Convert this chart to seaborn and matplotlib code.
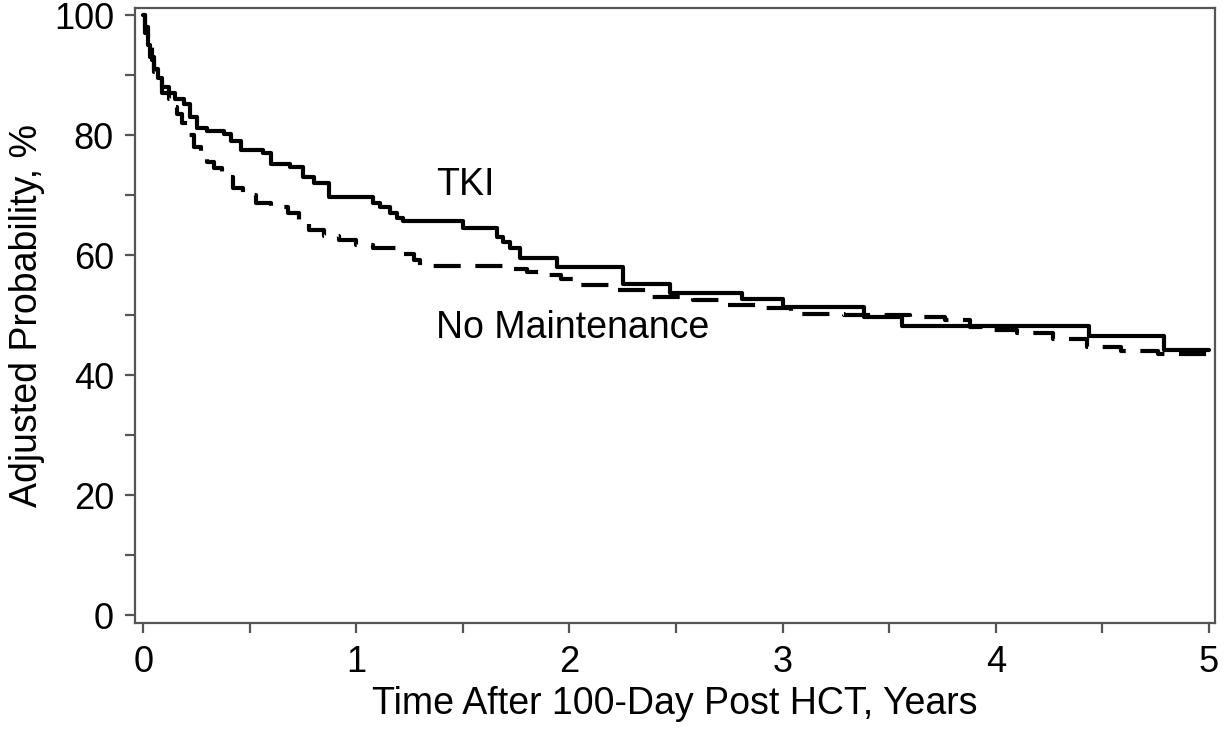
import numpy as np
import pandas as pd
import matplotlib
matplotlib.use("Agg")
import matplotlib.pyplot as plt
import seaborn as sns

# step points (time in years, adjusted probability %)
tki_x = [0, 0.01, 0.02, 0.03, 0.05, 0.07, 0.09, 0.12, 0.15, 0.19, 0.22, 0.25,
         0.30, 0.38, 0.41, 0.46, 0.56, 0.60, 0.69, 0.75, 0.80, 0.87, 1.08, 1.11,
         1.16, 1.19, 1.22, 1.50, 1.66, 1.69, 1.72, 1.77, 1.94, 2.25, 2.47, 2.81,
         3.00, 3.38, 3.56, 4.44, 4.79, 5.0]
tki_y = [100, 98, 95, 93, 91, 89.5, 88, 87, 86, 85.3, 83, 81.3,
         80.8, 80.3, 79, 77.5, 77, 75.3, 74.7, 73, 72, 69.7, 68.8, 68,
         67, 66.3, 65.8, 64.5, 63, 62.2, 61.3, 59.5, 58, 55.3, 53.8, 52.8,
         51.4, 49.7, 48.2, 46.5, 44.3, 44.3]

nomaint_x = [0, 0.01, 0.02, 0.04, 0.05, 0.07, 0.09, 0.12, 0.14, 0.16, 0.18, 0.21,
             0.24, 0.27, 0.30, 0.33, 0.37, 0.42, 0.47, 0.53, 0.60, 0.68, 0.73, 0.78,
             0.85, 0.92, 1.00, 1.08, 1.21, 1.27, 1.30, 1.72, 1.80, 1.88, 1.96, 2.04,
             2.22, 2.37, 2.58, 2.71, 2.88, 3.04, 3.29, 3.60, 3.76, 3.88, 3.94, 4.10,
             4.27, 4.43, 4.59, 4.76, 5.0]
nomaint_y = [100, 97, 95, 92.5, 90.5, 89, 87, 86, 84.7, 83.5, 82, 80,
             78, 76.5, 75.5, 74.5, 73, 71.3, 70, 68.8, 68, 67, 65.5, 64.2,
             63.3, 62.5, 61.8, 61.2, 60.3, 59.3, 58.3, 57.8, 57.3, 56.7, 56, 55,
             54.2, 53, 52.5, 51.8, 51.2, 50.3, 50, 49.7, 49.3, 48, 47.5, 47,
             46, 44.7, 44, 43.6, 43.6]

x_ticks = [0, 1, 2, 3, 4, 5]
y_ticks = [0, 20, 40, 60, 80, 100]

sns.set_style("ticks")
plt.rcParams['font.family'] = ['Liberation Sans', 'DejaVu Sans']
plt.rcParams['text.color'] = 'black'
plt.rcParams['axes.labelcolor'] = 'black'

fig = plt.figure(figsize=(12.25, 7.4), dpi=100)
ax = fig.add_axes([0.110, 0.158, 0.882, 0.831])

sns.lineplot(x=tki_x, y=tki_y, drawstyle="steps-post", color="black",
             linewidth=3, estimator=None, sort=False, ax=ax)
sns.lineplot(x=nomaint_x, y=nomaint_y, drawstyle="steps-post", color="black",
             linewidth=3, estimator=None, sort=False, ax=ax)
ax.lines[1].set_dashes([6.5, 3.5])

ax.set_xlim(-0.04, 5.03)
ax.set_ylim(-1.3, 101.2)

# half-year / 10% ticks, only some labelled
ax.set_xticks(np.arange(0, 5.01, 0.5))
ax.set_xticklabels([str(int(v)) if v in x_ticks else "" for v in np.arange(0, 5.01, 0.5)])
ax.set_yticks(np.arange(0, 101, 10))
ax.set_yticklabels([str(v) if v in y_ticks else "" for v in range(0, 101, 10)])

for s in ax.spines.values():
    s.set_color("#555555")
    s.set_linewidth(1.6)
ax.tick_params(length=7, width=1.6, color="#555555", labelcolor="black",
               labelsize=26)
ax.tick_params(axis="x", pad=9)
ax.tick_params(axis="y", pad=8)

ax.set_xlabel("Time After 100-Day Post HCT, Years", fontsize=27, labelpad=4)
ax.set_ylabel("Adjusted Probability, %", fontsize=27, labelpad=6)

ax.text(1.375, 70, "TKI", fontsize=27, va="baseline", ha="left")
ax.text(1.375, 46.3, "No Maintenance", fontsize=27, va="baseline", ha="left")

fig.savefig("out.png", dpi=100)
